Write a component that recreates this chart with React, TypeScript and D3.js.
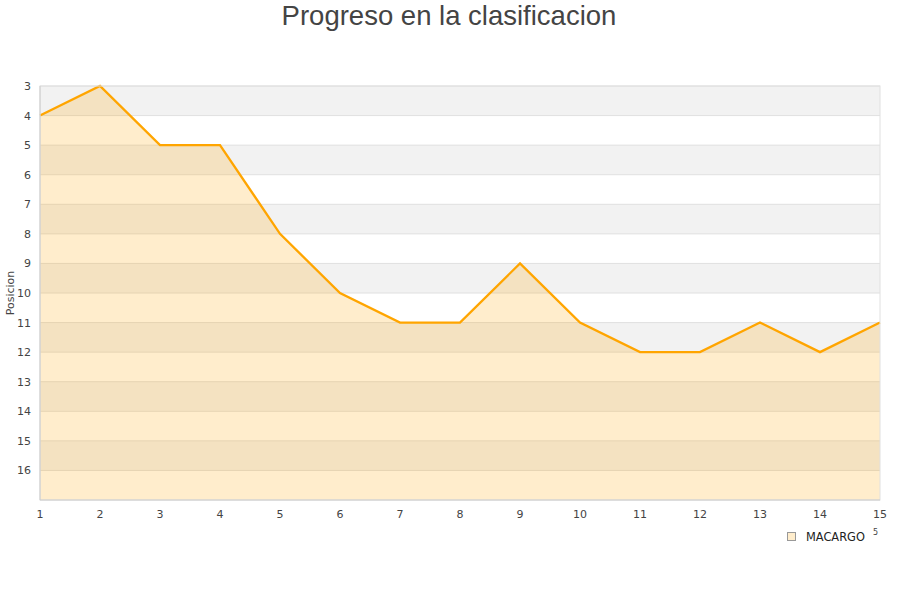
import React from "react";
import * as d3 from "d3";

const rounds: number[] = [1, 2, 3, 4, 5, 6, 7, 8, 9, 10, 11, 12, 13, 14, 15];
const positions: number[] = [4, 3, 5, 5, 8, 10, 11, 11, 9, 11, 12, 12, 11, 12, 11];
const yTicks: number[] = [3, 4, 5, 6, 7, 8, 9, 10, 11, 12, 13, 14, 15, 16];
const seriesName = "MACARGO";
const title = "Progreso en la clasificacion";
const yLabel = "Posicion";

export default function App() {
  const W = 900, H = 600;
  const left = 40, right = 880, top = 86, bottom = 500;
  const x = d3.scaleLinear().domain([1, 15]).range([left, right]);
  const y = d3.scaleLinear().domain([3, 17]).range([top, bottom]);
  const bands = d3.range(3, 17);
  const line = d3.line<number>().x((_, i) => x(rounds[i])).y((d) => y(d));
  const area = d3
    .area<number>()
    .x((_, i) => x(rounds[i]))
    .y0(y(17))
    .y1((d) => y(d));
  const font = "'DejaVu Sans', sans-serif";
  return (
    <svg width={W} height={H} style={{ position: "absolute", left: 0, top: 0, background: "#fff" }}>
      <text x={449} y={25} textAnchor="middle" fontFamily="'Liberation Sans', Arial, sans-serif" fontSize={27.5} fill="#444">
        {title}
      </text>
      {bands.map((b) => (
        <rect key={b} x={left} y={y(b)} width={right - left} height={y(b + 1) - y(b)} fill={b % 2 === 1 ? "#f2f2f2" : "#ffffff"} />
      ))}
      {yTicks.map((t) => (
        <line key={"g" + t} x1={left} x2={right} y1={y(t)} y2={y(t)} stroke="#e0e0e0" strokeWidth={1} />
      ))}
      <path d={area(positions) || ""} fill="#ffa500" fillOpacity={0.2} />
      <path d={line(positions) || ""} fill="none" stroke="#ffa500" strokeWidth={2.3} />
      <rect x={left} y={top} width={right - left} height={bottom - top} fill="none" stroke="#e0e0e0" />
      <line x1={left} x2={left} y1={top} y2={bottom} stroke="#ccc" />
      <line x1={left} x2={right} y1={bottom} y2={bottom} stroke="#ccc" />
      {yTicks.map((t) => (
        <text key={"y" + t} x={31} y={y(t) + 4} textAnchor="end" fontFamily={font} fontSize={11} fill="#444">
          {t}
        </text>
      ))}
      {rounds.map((r) => (
        <text key={"x" + r} x={x(r)} y={518} textAnchor="middle" fontFamily={font} fontSize={11} fill="#444">
          {r}
        </text>
      ))}
      <text transform={`translate(14,293) rotate(-90)`} textAnchor="middle" fontFamily={font} fontSize={11} fill="#444">
        {yLabel}
      </text>
      <rect x={787.5} y={532.5} width={8} height={8} fill="#ffa500" fillOpacity={0.2} stroke="#999" strokeWidth={1} />
      <text x={806} y={541} fontFamily={font} fontSize={11.4} fill="#222">
        {seriesName}
      </text>
      <text x={873} y={535} fontFamily={font} fontSize={8} fill="#444">5</text>
    </svg>
  );
}
